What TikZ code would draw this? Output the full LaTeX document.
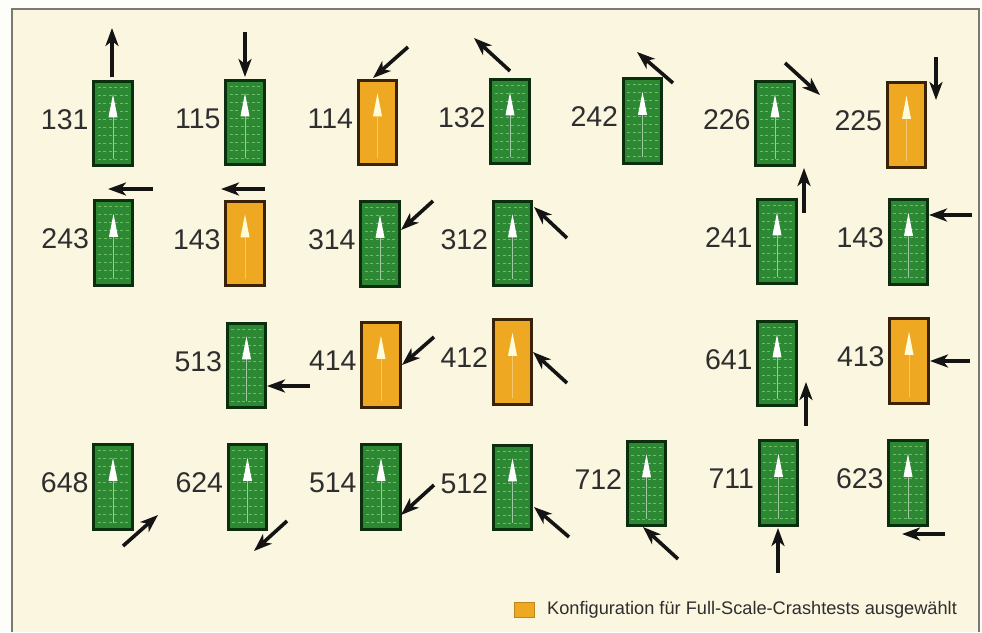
\documentclass[tikz,border=0pt]{standalone}
\usepackage{fontspec}
\setmainfont{Liberation Sans}
\usetikzlibrary{arrows.meta,calc}
\definecolor{bgcream}{HTML}{FAF6E0}
\definecolor{outside}{HTML}{FDFDFA}
\definecolor{gfill}{HTML}{2C8832}
\definecolor{gline}{HTML}{0B2F0E}
\definecolor{gtex}{HTML}{6CBD66}
\definecolor{ofill}{HTML}{EFA822}
\definecolor{oline}{HTML}{3A2208}
\definecolor{labelgray}{HTML}{2E2E2E}
\definecolor{framegray}{HTML}{7A7A72}
\newcommand\carbox[5]{%
  \node[#2] (b#1) at (#3,#4) {};
  \node[numlbl] (l#1) at ($(b#1.west)+(-5,-4)$) {#5};}
\newcommand\impact[3]{%
  \coordinate (t#1) at (#2);
  \coordinate (h#1) at (#3);
  \draw[arr] (t#1) -- (h#1);}
\begin{document}
\begin{tikzpicture}[x=1pt,y=-1pt,
  veh/.style={minimum width=38.5pt, minimum height=84.5pt, inner sep=0pt, outer sep=0pt, line width=2.6pt},
  gveh/.style={veh, draw=gline, fill=gfill, path picture={
     \foreach \k in {0,...,9}{
       \draw[gtex, line width=1.2pt, dash pattern=on 3pt off 2.5pt]
         ($(path picture bounding box.north west)+(4,6+\k*8)$) --
         ($(path picture bounding box.north east)+(-4,6+\k*8)$);}
     \fill[white] ($(path picture bounding box.north)+(0,13)$) --
         ($(path picture bounding box.north)+(4.5,36)$) --
         ($(path picture bounding box.north)+(-4.5,36)$) -- cycle;
     \draw[white, line width=0.9pt, opacity=0.55] ($(path picture bounding box.north)+(0,36)$) --
         ($(path picture bounding box.north)+(0,78)$);}},
  oveh/.style={veh, draw=oline, fill=ofill, path picture={
     \fill[white!85!yellow] ($(path picture bounding box.north)+(0,13)$) --
         ($(path picture bounding box.north)+(4.5,36)$) --
         ($(path picture bounding box.north)+(-4.5,36)$) -- cycle;
     \draw[white!70!ofill, line width=0.9pt, opacity=0.5] ($(path picture bounding box.north)+(0,36)$) --
         ($(path picture bounding box.north)+(0,78)$);}},
  numlbl/.style={anchor=east, inner sep=0pt, text=labelgray, font=\fontsize{28.5}{28.5}\selectfont},
  arr/.style={line width=3.6pt, draw=black!92, -{Stealth[length=18pt,width=13pt,inset=5pt]}}
]
\useasboundingbox (0,0) rectangle (982,632);
\fill[outside] (0,0) rectangle (982,632);
\fill[bgcream] (12,9) rectangle (979,632);
\draw[framegray, line width=1.5pt] (12,632) -- (12,9) -- (979,9) -- (979,632);

% row 1
\carbox{131}{gveh}{113}{123.5}{131}
\carbox{115}{gveh}{245}{122.5}{115}
\carbox{114}{oveh}{377.5}{122.5}{114}
\carbox{132}{gveh}{510}{121.5}{132}
\carbox{242}{gveh}{642.5}{121}{242}
\carbox{226}{gveh}{775}{123.5}{226}
\carbox{225}{oveh}{906.5}{125}{225}
% row 2
\carbox{243}{gveh}{113.5}{243}{243}
\carbox{143a}{oveh}{245}{243.5}{143}
\carbox{314}{gveh}{380}{244}{314}
\carbox{312}{gveh}{512.5}{243.5}{312}
\carbox{241}{gveh}{777}{241.5}{241}
\carbox{143b}{gveh}{908.5}{242}{143}
% row 3
\carbox{513}{gveh}{246.5}{365.5}{513}
\carbox{414}{oveh}{381}{365}{414}
\carbox{412}{oveh}{512.5}{362}{412}
\carbox{641}{gveh}{777}{363.5}{641}
\carbox{413}{oveh}{909}{361}{413}
% row 4
\carbox{648}{gveh}{113}{487}{648}
\carbox{624}{gveh}{247.5}{487}{624}
\carbox{514}{gveh}{381}{487}{514}
\carbox{512}{gveh}{512.5}{487.5}{512}
\carbox{712}{gveh}{646.5}{483.5}{712}
\carbox{711}{gveh}{778.5}{483}{711}
\carbox{623}{gveh}{908}{483}{623}

% impact arrows
\impact{131}{112,77}{112,28}
\impact{115}{245,32}{245,77}
\impact{114}{408,47}{373,78}
\impact{132}{510,71}{474,38}
\impact{242}{673,83}{637,52}
\impact{226}{785,63}{820,95}
\impact{225}{936,57}{936,100}
\impact{243}{153,189}{108,189}
\impact{143a}{265,189}{221,189}
\impact{314}{433,201}{401,230}
\impact{312}{567,238}{534,207}
\impact{241}{804,213}{804,168}
\impact{143b}{972,215}{929,215}
\impact{513}{310,386}{267,386}
\impact{414}{434,337}{402,365}
\impact{412}{567,383}{533,352}
\impact{641}{806,426}{806,382}
\impact{413}{970,361}{930,361}
\impact{648}{123,546}{158,515}
\impact{624}{287,521}{254,551}
\impact{514}{434,485}{401,515}
\impact{512}{569,537}{534,507}
\impact{712}{678,559}{643,527}
\impact{711}{778,573}{778,528}
\impact{623}{945,534}{902,534}

% legend
\node[fill=ofill, draw=ofill!80!black, line width=0.6pt, minimum width=20pt, minimum height=15pt, inner sep=0pt] (legsq) at (524.5,610) {};
\node[anchor=west, inner sep=0pt, text=labelgray, font=\fontsize{18.2}{19}\selectfont] (legtxt) at (547,610) {Konfiguration für Full-Scale-Crashtests ausgewählt};
\end{tikzpicture}
\end{document}
